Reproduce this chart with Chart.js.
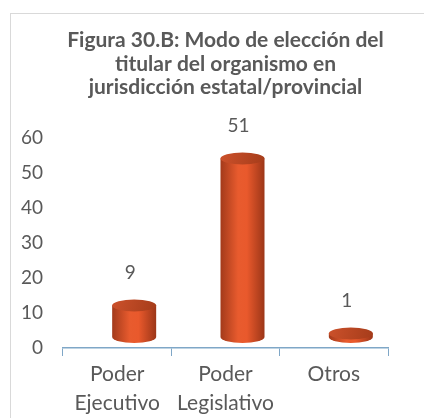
<!DOCTYPE html>
<html>
<head>
<meta charset="utf-8">
<script src="https://cdn.jsdelivr.net/npm/chart.js@4.4.0/dist/chart.umd.min.js"></script>
<style>
  html, body { margin: 0; padding: 0; background: #fff; overflow: hidden; }
  #wrap { position: relative; width: 424px; height: 418px; }
  #frame { position: absolute; left: 10px; top: 13px; width: 440px; height: 440px;
           border: 1px solid #d9d9d9; box-sizing: border-box; }
  canvas { position: absolute; left: 0; top: 0; }
</style>
</head>
<body>
<div id="wrap">
  <div id="frame"></div>
  <canvas id="chart" width="424" height="418"></canvas>
</div>
<script>
// Datos de la figura
const categories = [['Poder', 'Ejecutivo'], ['Poder', 'Legislativo'], 'Otros'];
const values = [9, 51, 1];
const yTicks = [0, 10, 20, 30, 40, 50, 60];
const titleLines = [
    'Figura 30.B: Modo de elección del',
    'titular del organismo en',
    'jurisdicción estatal/provincial'
];

const textColor = '#595959';
const axisColor = '#7fa7c7';
const fontFamily = 'Lato';

/**
 * Dibuja cada barra como un cilindro en perspectiva, con su etiqueta de valor
 */
const cylinderPlugin = {
    id: 'cylinders',
    afterDatasetsDraw(chart) {
        const ctx = chart.ctx;
        const meta = chart.getDatasetMeta(0);
        const dx = 17, dy = -11, ry = 6;

        meta.data.forEach((bar, i) => {
            const cx = bar.x + dx;
            const rx = bar.width / 2;
            const top = bar.y + dy;
            const bottom = bar.base + dy;

            ctx.save();

            // cuerpo
            const body = ctx.createLinearGradient(cx - rx, 0, cx + rx, 0);
            body.addColorStop(0, '#a33a1b');
            body.addColorStop(0.4, '#e85b2e');
            body.addColorStop(0.6, '#e9592c');
            body.addColorStop(1, '#9c3618');
            ctx.beginPath();
            ctx.moveTo(cx - rx, top);
            ctx.lineTo(cx - rx, bottom);
            ctx.ellipse(cx, bottom, rx, ry, 0, Math.PI, 0, true);
            ctx.lineTo(cx + rx, top);
            ctx.closePath();
            ctx.fillStyle = body;
            ctx.fill();

            // tapa superior
            const cap = ctx.createLinearGradient(cx - rx, top - ry, cx + rx, top + ry);
            cap.addColorStop(0, '#cc512b');
            cap.addColorStop(1, '#a53c1a');
            ctx.beginPath();
            ctx.ellipse(cx, top, rx, ry, 0, 0, Math.PI * 2);
            ctx.fillStyle = cap;
            ctx.fill();

            ctx.restore();

            // etiqueta de valor
            ctx.save();
            ctx.font = `19px ${fontFamily}`;
            ctx.fillStyle = textColor;
            ctx.textAlign = 'center';
            ctx.textBaseline = 'middle';
            ctx.fillText(String(values[i]), bar.x + 13, bar.y - 44);
            ctx.restore();
        });
    }
};

const ctx = document.getElementById('chart');

new Chart(ctx, {
    type: 'bar',
    data: {
        labels: categories,
        datasets: [{
            data: values,
            backgroundColor: 'rgba(0,0,0,0)',
            borderWidth: 0,
            barThickness: 44
        }]
    },
    options: {
        responsive: false,
        animation: false,
        layout: { padding: { left: 0, right: 36, top: 0, bottom: 0 } },
        plugins: {
            legend: { display: false },
            tooltip: { enabled: false },
            title: {
                display: true,
                fullSize: false,
                text: titleLines,
                color: textColor,
                font: { family: fontFamily, size: 21, weight: 'bold', lineHeight: 1.11 },
                padding: { top: 29, bottom: 39 }
            }
        },
        scales: {
            x: {
                grid: {
                    display: true,
                    drawOnChartArea: false,
                    drawTicks: true,
                    tickLength: 8,
                    color: axisColor,
                    offset: true
                },
                border: { display: true, color: axisColor, width: 1.5 },
                ticks: {
                    color: textColor,
                    font: { family: fontFamily, size: 21, lineHeight: 1.36 },
                    padding: 4,
                    maxRotation: 0,
                    autoSkip: false
                },
                afterFit: (scale) => { scale.height = 70; }
            },
            y: {
                min: 0,
                max: 60,
                afterBuildTicks: (scale) => { scale.ticks = yTicks.map(v => ({ value: v })); },
                grid: { display: false, drawTicks: false },
                border: { display: false },
                ticks: {
                    color: textColor,
                    font: { family: fontFamily, size: 19 },
                    padding: 20
                },
                afterFit: (scale) => { scale.width = 63; }
            }
        }
    },
    plugins: [cylinderPlugin]
});
</script>
</body>
</html>
